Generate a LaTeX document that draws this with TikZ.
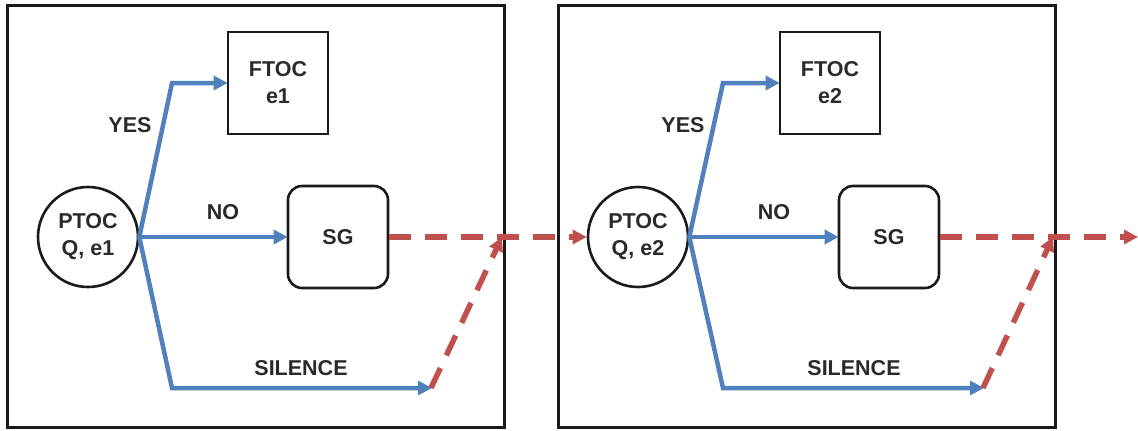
\documentclass[tikz,border=0pt]{standalone}
\usepackage{fontspec}
\setmainfont{Liberation Sans}
\usetikzlibrary{arrows.meta}
\definecolor{flowblue}{HTML}{4F81BD}
\definecolor{sigred}{HTML}{C0504D}
\definecolor{ink}{HTML}{1A1A1A}
\definecolor{txt}{HTML}{2A2A2A}
\tikzset{
  lbl/.style={font=\fontsize{21.5}{27}\selectfont\bfseries, text=txt, align=center, inner sep=0pt},
  frame/.style={draw=ink, line width=2.6pt, minimum width=497pt, minimum height=422pt, inner sep=0pt},
  decision/.style={lbl, circle, draw=ink, line width=2.6pt, minimum size=100pt},
  trip/.style={lbl, draw=ink, line width=2.6pt, minimum width=100pt, minimum height=102pt},
  signal/.style={lbl, draw=ink, line width=2.6pt, rounded corners=14pt, minimum width=100pt, minimum height=102pt},
  flow/.style={draw=flowblue, line width=4.5pt, -{Triangle[length=14pt,width=14pt]}, shorten >=-1pt},
  relay/.style={draw=sigred, line width=5.5pt, dash pattern=on 22pt off 14pt, -{Triangle[length=14pt,width=14pt]}}
}
\begin{document}
\begin{tikzpicture}[x=1pt,y=-1pt]
\useasboundingbox (0,0) rectangle (1138,431);

% outer frames
\node[frame] (f1) at (256,216.5) {};
\node[frame] (f2) at (807,216.5) {};

% first stage
\node[decision] (p1) at (88,237) {PTOC\\Q, e1};
\node[trip] (t1) at (278,83) {FTOC\\e1};
\node[signal] (s1) at (338,237) {SG};
\coordinate (y1) at (172,83);
\coordinate (d1) at (172,388);
\coordinate (e1) at (431,388);
\coordinate (j1) at (502,237);
\node[lbl] (yes1) at (130,125) {YES};
\node[lbl] (no1) at (223,212) {NO};
\node[lbl] (sil1) at (301,368) {SILENCE};

% second stage
\node[decision] (p2) at (638,237) {PTOC\\Q, e2};
\node[trip] (t2) at (830,83) {FTOC\\e2};
\node[signal] (s2) at (889,237) {SG};
\coordinate (y2) at (723,83);
\coordinate (d2) at (723,388);
\coordinate (e2) at (983,388);
\coordinate (j2) at (1053,237);
\coordinate (out) at (1138,237);
\node[lbl] (yes2) at (683,125) {YES};
\node[lbl] (no2) at (774,212) {NO};
\node[lbl] (sil2) at (854,368) {SILENCE};

% branches of the first stage
\draw[flow] (p1.east) -- (y1) -- (t1.west);
\draw[flow] (p1.east) -- (s1.west);
\draw[flow] (p1.east) -- (d1) -- (e1);
\draw[relay] (e1) -- (j1);
\draw[relay] (s1.east) -- (p2.west);

% branches of the second stage
\draw[flow] (p2.east) -- (y2) -- (t2.west);
\draw[flow] (p2.east) -- (s2.west);
\draw[flow] (p2.east) -- (d2) -- (e2);
\draw[relay] (e2) -- (j2);
\draw[relay] (s2.east) -- (out);
\end{tikzpicture}
\end{document}
